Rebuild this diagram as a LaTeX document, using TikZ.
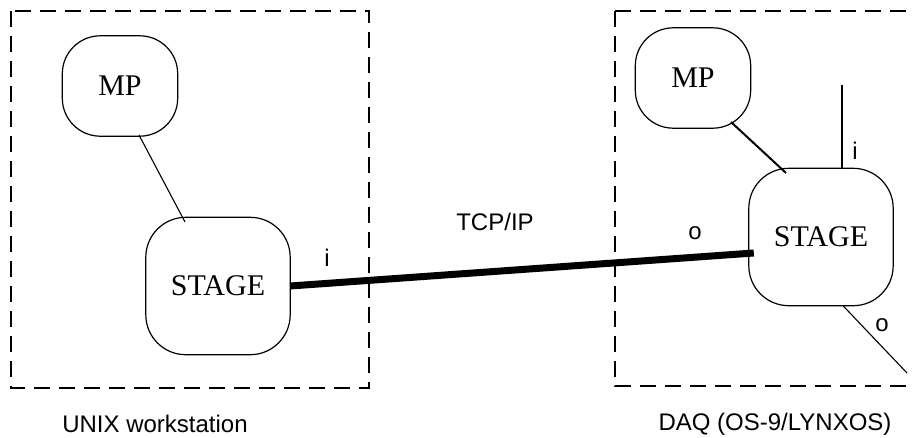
\documentclass[tikz,border=0pt]{standalone}
\usepackage{fontspec}
\setmainfont{Liberation Serif}
\setsansfont{Liberation Sans}
\usetikzlibrary{calc}
\newcommand{\myrbox}[2]{%
  \draw[line width=1.2pt] ([xshift=#2]#1.north west) -- ([xshift=-#2]#1.north east)
    arc[start angle=90,end angle=0,radius=#2] -- ([yshift=#2]#1.south east)
    arc[start angle=0,end angle=-90,radius=#2] -- ([xshift=#2]#1.south west)
    arc[start angle=270,end angle=180,radius=#2] -- ([yshift=-#2]#1.north west)
    arc[start angle=180,end angle=90,radius=#2] -- cycle;}
\begin{document}
\begin{tikzpicture}[x=1pt,y=-1pt,
  mpbox/.style={minimum width=115pt,minimum height=100pt,inner sep=0pt,font=\fontsize{30}{36}\selectfont},
  stagebox/.style={minimum width=144pt,minimum height=137pt,inner sep=0pt,font=\fontsize{30}{36}\selectfont},
  hostbox/.style={line width=1.3pt,dash pattern=on 16pt off 9pt},
  lbl/.style={font=\fontsize{24}{28}\sffamily\selectfont,inner sep=0pt},
  thin/.style={line width=1.1pt},
  thick/.style={line width=7pt}]
\useasboundingbox (0,0) rectangle (914,437);
% host boxes
\draw[hostbox] (11,11) rectangle (369,388);
\draw[hostbox] (615,11) -- (930,11) (615,11) -- (615,386) -- (930,386);
% nodes
\node[mpbox] (mpL) at (120,86) {MP};
\node[stagebox] (stL) at (218,286) {STAGE};
\node[mpbox] (mpR) at (693,78) {MP};
\node[stagebox] (stR) at (821,237) {STAGE};
\myrbox{mpL}{38pt}
\myrbox{mpR}{38pt}
\myrbox{stL}{40pt}
\myrbox{stR}{40pt}
% connectors
\draw[thin] ($(mpL.center)+(19,49)$) -- ($(stL.center)+(-33,-64)$);
\draw[line width=2pt] ($(mpR.center)+(38,44)$) -- ($(stR.center)+(-35,-64)$);
\coordinate (tcpR) at ([xshift=5pt,yshift=-16pt]stR.west);
\draw[thick] (stL.east) -- (tcpR);
\coordinate (iR) at (842,85);
\draw[thin] (iR) -- (iR |- stR.north);
\coordinate (oR) at (907,373);
\draw[thin] ([xshift=22pt]stR.south) -- (oR);
% labels
\node[lbl] at (327,258) {i};
\node[lbl] at (695,233) {o};
\node[lbl] at (495,222) {TCP/IP};
\node[lbl] at (855,151) {i};
\node[lbl] at (882,325) {o};
\node[lbl] at (155,424) {UNIX workstation};
\node[lbl] at (775,424) {DAQ (OS-9/LYNXOS)};
\end{tikzpicture}
\end{document}
